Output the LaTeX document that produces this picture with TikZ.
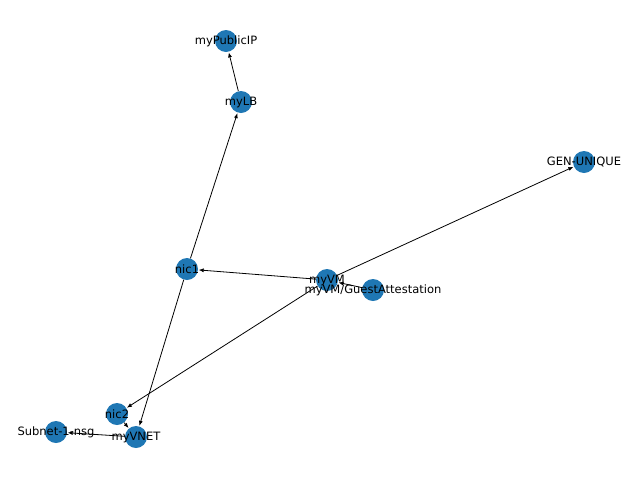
\documentclass[tikz,border=0pt]{standalone}
\usepackage{fontspec}
\setmainfont{DejaVu Sans}
\usetikzlibrary{arrows.meta}
\begin{document}
\begin{tikzpicture}[x=1pt,y=-1pt,
  vert/.style={circle,fill=blue!55!cyan!70!black,minimum size=22pt,inner sep=0pt},
  lab/.style={font=\fontsize{11.5}{12}\selectfont},
  edge/.style={-{Latex[length=5pt,width=4pt]},black,line width=0.8pt,shorten >=0.5pt}]
\useasboundingbox (0,0) rectangle (640,480);
\colorlet{nb}{blue!55!cyan!70!black}
\definecolor{nb}{RGB}{31,119,180}
\tikzset{vert/.style={circle,fill=nb,minimum size=22pt,inner sep=0pt}}
\node[vert] (pip) at (226,41) {};
\node[vert] (lb) at (241,102) {};
\node[vert] (gen) at (584,162) {};
\node[vert] (nic1) at (187,269) {};
\node[vert] (vm) at (327,280) {};
\node[vert] (ga) at (373,290) {};
\node[vert] (nic2) at (117,414) {};
\node[vert] (nsg) at (56,432) {};
\node[vert] (vnet) at (136,437) {};
\draw[edge] (lb) -- (pip);
\draw[edge] (nic1) -- (lb);
\draw[edge] (nic1) -- (vnet);
\draw[edge] (vm) -- (nic1);
\draw[edge] (vm) -- (nic2);
\draw[edge] (vm) -- (gen);
\draw[edge] (ga) -- (vm);
\draw[edge] (nic2) -- (vnet);
\draw[edge] (vnet) -- (nsg);
\node[lab] (tpip) at (pip) {myPublicIP};
\node[lab] (tlb) at (lb) {myLB};
\node[lab] (tgen) at (gen) {GEN-UNIQUE};
\node[lab] (tnic1) at (nic1) {nic1};
\node[lab] (tvm) at (vm) {myVM};
\node[lab] (tga) at (ga) {myVM/GuestAttestation};
\node[lab] (tnic2) at (nic2) {nic2};
\node[lab] (tnsg) at (nsg) {Subnet-1-nsg};
\node[lab] (tvnet) at (vnet) {myVNET};
\end{tikzpicture}
\end{document}
